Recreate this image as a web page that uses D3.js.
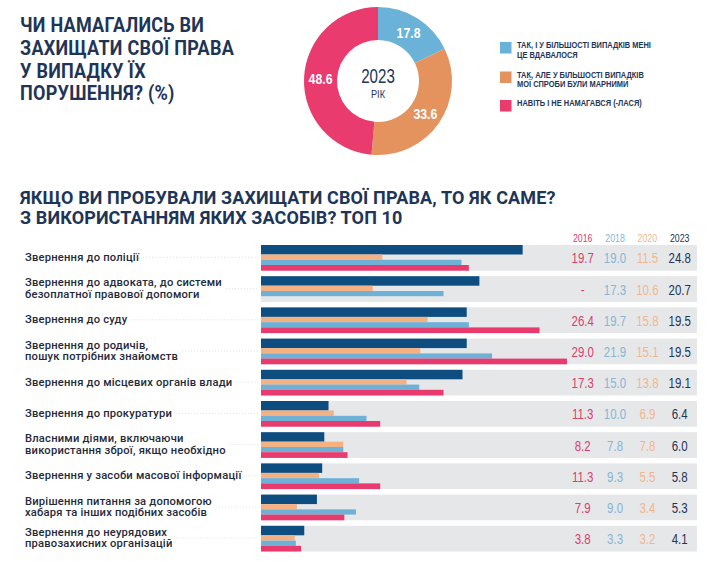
<!DOCTYPE html>
<html><head><meta charset="utf-8">
<script src="https://cdn.jsdelivr.net/npm/d3@7"></script>
<style>
html,body{margin:0;padding:0;background:#fff;}
svg{display:block;}
</style></head>
<body>
<svg id="chart" width="718" height="562"></svg>
<script>
// ---- Data ----
const donutLabels = ["ТАК, І У БІЛЬШОСТІ ВИПАДКІВ МЕНІ|ЦЕ ВДАВАЛОСЯ", "ТАК, АЛЕ У БІЛЬШОСТІ ВИПАДКІВ|МОЇ СПРОБИ БУЛИ МАРНИМИ", "НАВІТЬ І НЕ НАМАГАВСЯ (-ЛАСЯ)"];
const donutValues = [17.8, 33.6, 48.6];
const donutYear = "2023";
const donutYearSub = "РІК";

const title1 = ["ЧИ НАМАГАЛИСЬ ВИ", "ЗАХИЩАТИ СВОЇ ПРАВА", "У ВИПАДКУ ЇХ", "ПОРУШЕННЯ? (%)"];
const title2 = ["ЯКЩО ВИ ПРОБУВАЛИ ЗАХИЩАТИ СВОЇ ПРАВА, ТО ЯК САМЕ?", "З ВИКОРИСТАННЯМ ЯКИХ ЗАСОБІВ? ТОП 10"];

const categories = [
  "Звернення до поліції",
  "Звернення до адвоката, до системи|безоплатної правової допомоги",
  "Звернення до суду",
  "Звернення до родичів,|пошук потрібних знайомств",
  "Звернення до місцевих органів влади",
  "Звернення до прокуратури",
  "Власними діями, включаючи|використання зброї, якщо необхідно",
  "Звернення у засоби масової інформації",
  "Вирішення питання за допомогою|хабаря та інших подібних засобів",
  "Звернення до неурядових|правозахисних організацій"
];
const years = ["2016", "2018", "2020", "2023"];
const v2016 = [19.7, null, 26.4, 29.0, 17.3, 11.3, 8.2, 11.3, 7.9, 3.8];
const v2018 = [19.0, 17.3, 19.7, 21.9, 15.0, 10.0, 7.8, 9.3, 9.0, 3.3];
const v2020 = [11.5, 10.6, 15.8, 15.1, 13.8, 6.9, 7.8, 5.5, 3.4, 3.2];
const v2023 = [24.8, 20.7, 19.5, 19.5, 19.1, 6.4, 6.0, 5.8, 5.3, 4.1];

// ---- Styles ----
const navy = "#1e3557";
const donutColors = ["#6ab2d8", "#e5935e", "#ea3b6f"];
const barColors = {"2023": "#0d4d80", "2020": "#f4b283", "2018": "#6eb0d6", "2016": "#e93a6e"};
const numColors = {"2016": "#d8406f", "2018": "#86b6d6", "2020": "#f1b78e", "2023": "#1e3557"};
const numFont = "'Liberation Sans', Arial, sans-serif";
const labelFont = "Roboto, 'Noto Sans', sans-serif";

const svg = d3.select("#chart");

// ---- Title 1 ----
svg.append("g").attr("transform", "translate(20,0) scale(0.91,1)")
  .selectAll("text").data(title1).join("text")
  .attr("x", 0).attr("y", (d, i) => 32 + i * 22.8)
  .attr("fill", navy).attr("font-family", labelFont).attr("font-weight", 700)
  .attr("font-size", 19.8).attr("letter-spacing", 0.3)
  .text(d => d);

// ---- Donut ----
const cx = 378, cy = 81;
const pie = d3.pie().sort(null).value(d => d);
const arc = d3.arc().innerRadius(41).outerRadius(74);
const gD = svg.append("g").attr("transform", `translate(${cx},${cy})`);
const arcs = pie(donutValues);
gD.selectAll("path").data(arcs).join("path")
  .attr("d", arc).attr("fill", (d, i) => donutColors[i]);
gD.selectAll("text.v").data(arcs).join("text").attr("class", "v")
  .attr("transform", d => { const c = arc.centroid(d); return `translate(${c[0]},${c[1] + 5.5}) scale(0.82,1)`; })
  .attr("text-anchor", "middle")
  .attr("fill", "#fff").attr("font-family", numFont).attr("font-weight", 700).attr("font-size", 15)
  .text(d => d.data.toFixed(1));
gD.append("text").attr("text-anchor", "middle").attr("transform", "translate(0,2) scale(0.72,1)")
  .attr("fill", navy).attr("font-family", numFont).attr("font-size", 21).text(donutYear);
gD.append("text").attr("text-anchor", "middle").attr("transform", "translate(0,16.5) scale(0.8,1)")
  .attr("fill", navy).attr("font-family", numFont).attr("font-size", 11.5).text(donutYearSub);

// ---- Legend ----
const legY = [42, 71.5, 100];
const gL = svg.append("g");
donutLabels.forEach((lab, i) => {
  gL.append("rect").attr("x", 500).attr("y", legY[i]).attr("width", 11.5).attr("height", 11.5)
    .attr("fill", donutColors[i]);
  const t = gL.append("text").attr("transform", `translate(517,${legY[i] + 6.2}) scale(0.9,1)`)
    .attr("fill", navy).attr("font-family", numFont).attr("font-weight", 700).attr("font-size", 8.3);
  lab.split("|").forEach((ln, j) => {
    t.append("tspan").attr("x", 0).attr("y", j * 9.7).text(ln);
  });
});

// ---- Title 2 ----
svg.append("g").selectAll("text").data(title2).join("text")
  .attr("x", 20).attr("y", (d, i) => 203.5 + i * 20)
  .attr("fill", navy).attr("font-family", labelFont).attr("font-weight", 700)
  .attr("font-size", 18).attr("letter-spacing", 0.12)
  .text(d => d);

// ---- Bars ----
const x = d3.scaleLinear().domain([0, 30]).range([261, 261 + 30 * 10.55]);
const y = d3.scaleBand().domain(d3.range(categories.length)).range([245, 551.5]).paddingInner(0.176).paddingOuter(0);
const series = {"2016": v2016, "2018": v2018, "2020": v2020, "2023": v2023};
const subOff = {"2023": [0, 9.5], "2020": [9.5, 5.3], "2018": [14.8, 5.2], "2016": [20, 5.7]};
const numX = d3.scalePoint().domain(years).range([582.7, 679.7]);

const gB = svg.append("g");
// background bands
gB.selectAll("rect.band").data(categories).join("rect").attr("class", "band")
  .attr("x", 261).attr("width", 697 - 261)
  .attr("y", (d, i) => y(i)).attr("height", y.bandwidth())
  .attr("fill", "#e6e7e9");

// bars
["2023", "2020", "2018", "2016"].forEach(yr => {
  const data = series[yr].map((v, i) => ({v, i})).filter(d => d.v != null);
  gB.selectAll("rect.b" + yr).data(data).join("rect").attr("class", "b" + yr)
    .attr("x", x(0)).attr("width", d => x(d.v) - x(0))
    .attr("y", d => y(d.i) + subOff[yr][0]).attr("height", subOff[yr][1])
    .attr("fill", barColors[yr]);
});

// year headers
gB.selectAll("text.yr").data(years).join("text").attr("class", "yr")
  .attr("transform", d => `translate(${numX(d)},242) scale(0.8,1)`).attr("text-anchor", "middle")
  .attr("fill", d => numColors[d]).attr("font-family", numFont).attr("font-size", 11)
  .text(d => d);

// numbers
years.forEach(yr => {
  gB.selectAll("text.n" + yr).data(series[yr]).join("text").attr("class", "n" + yr)
    .attr("transform", (d, i) => `translate(${numX(yr)},${y(i) + y.bandwidth() / 2 + 5.5}) scale(0.74,1)`)
    .attr("text-anchor", "middle")
    .attr("fill", numColors[yr]).attr("font-family", numFont).attr("font-size", 15.5)
    .text(d => d == null ? "-" : d.toFixed(1));
});

// labels with dotted leaders
categories.forEach((c, i) => {
  const lines = c.split("|");
  const mid = y(i) + y.bandwidth() / 2 - 1;
  const t = gB.append("text").attr("fill", "#1f2a3a").attr("font-family", labelFont)
    .attr("font-weight", 500).attr("font-size", 11.2).attr("letter-spacing", 0.2);
  lines.forEach((ln, j) => {
    const yy = lines.length === 1 ? mid + 4 : mid + 4 + (j - 0.5) * 11.6;
    t.append("tspan").attr("x", 25).attr("y", yy).text(ln);
  });
  let maxW = 0;
  t.selectAll("tspan").each(function() { maxW = Math.max(maxW, this.getComputedTextLength()); });
  gB.append("line").attr("x1", 25 + maxW + 4).attr("x2", 258)
    .attr("y1", mid + 0.5).attr("y2", mid + 0.5)
    .attr("stroke", "#d5d8dc").attr("stroke-width", 0.8).attr("stroke-dasharray", "1,2");
});
</script>
</body></html>
